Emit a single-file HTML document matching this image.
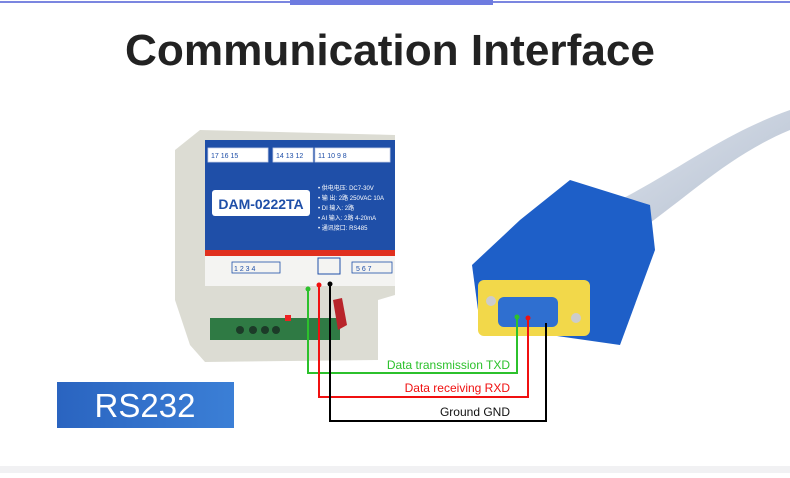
<!DOCTYPE html>
<html><head><style>
body{margin:0;width:790px;height:473px;background:#fff;overflow:hidden;font-family:"Liberation Sans",sans-serif;}
</style></head><body>
<svg width="790" height="473" viewBox="0 0 790 473" xmlns="http://www.w3.org/2000/svg">
<rect x="0" y="1" width="790" height="2" fill="#7b86e0"/>
<rect x="290" y="0" width="203" height="5" fill="#6e7be0"/>
<rect x="0" y="466" width="790" height="7" fill="#f1f1f3"/>
<text x="390" y="65" text-anchor="middle" font-size="44" font-weight="bold" fill="#222" textLength="530" lengthAdjust="spacingAndGlyphs">Communication Interface</text>
<defs><linearGradient id="bl" x1="0" y1="0" x2="1" y2="0"><stop offset="0" stop-color="#2a64c0"/><stop offset="1" stop-color="#3b7fd6"/></linearGradient>
<linearGradient id="cab" x1="0" y1="0" x2="1" y2="1"><stop offset="0" stop-color="#dde3ec"/><stop offset="1" stop-color="#b4bfd0"/></linearGradient></defs>
<rect x="57" y="382" width="177" height="46" fill="url(#bl)"/>
<text x="145" y="417" text-anchor="middle" font-size="33" fill="#fff">RS232</text>
<!-- device -->
<polygon points="175,150 200,130 395,135 395,295 378,300 378,360 205,362 190,345 175,300" fill="#dcdcd3"/>
<rect x="205" y="140" width="190" height="112" fill="#1f4fa8"/>
<rect x="205" y="250" width="190" height="6" fill="#e0301e"/>
<rect x="205" y="256" width="190" height="30" fill="#f4f4f2"/>
<rect x="212" y="190" width="98" height="26" rx="3" fill="#fff"/>
<text x="261" y="209" text-anchor="middle" font-size="14" font-weight="bold" fill="#1f4fa8">DAM-0222TA</text>
<g fill="#fff" stroke="#cbd3e8" stroke-width="0.8">
<rect x="208" y="148" width="60" height="14"/><rect x="273" y="148" width="40" height="14"/><rect x="315" y="148" width="75" height="14"/>
</g>
<g font-size="7" fill="#1f4fa8"><text x="211" y="158">17 16 15</text><text x="276" y="158">14 13 12</text><text x="318" y="158">11  10  9  8</text></g>
<g font-size="6" fill="#fff"><text x="318" y="190">• 供电电压: DC7-30V</text><text x="318" y="200">• 输 出: 2路 250VAC 10A</text><text x="318" y="210">• DI 输入: 2路</text><text x="318" y="220">• AI 输入: 2路 4-20mA</text><text x="318" y="230">• 通讯接口: RS485</text></g>
<g fill="none" stroke="#1f4fa8" stroke-width="0.8"><rect x="232" y="262" width="48" height="11"/><rect x="352" y="262" width="40" height="11"/></g>
<g font-size="7" fill="#1f4fa8"><text x="234" y="271">1  2  3  4</text><text x="356" y="271">5  6  7</text></g>
<rect x="318" y="258" width="22" height="16" fill="none" stroke="#1f4fa8"/>
<rect x="210" y="318" width="130" height="22" fill="#2f7a44"/>
<g fill="#1c3b28"><circle cx="240" cy="330" r="4"/><circle cx="253" cy="330" r="4"/><circle cx="265" cy="330" r="4"/><circle cx="276" cy="330" r="4"/></g>
<rect x="285" y="315" width="6" height="6" fill="#e22"/>
<path d="M333,300 L342,298 L347,325 L338,330 Z" fill="#b8242a"/>
<!-- connector -->
<path d="M610,205 C680,170 720,135 790,110 L790,130 C730,155 690,195 640,230 Z" fill="url(#cab)"/>
<path d="M570,180 L650,205 L655,250 L620,345 L480,325 L472,265 L520,220 Z" fill="#1e5fc8"/>
<rect x="478" y="280" width="112" height="56" rx="6" fill="#f2d84a"/>
<rect x="498" y="297" width="60" height="30" rx="6" fill="#2f6fd0"/>
<circle cx="491" cy="301" r="5" fill="#ccc"/><circle cx="576" cy="318" r="5" fill="#ccc"/>
<!-- wires -->
<g fill="none" stroke-width="2">
<polyline points="308,289 308,373 517,373 517,317" stroke="#2cc12c"/>
<polyline points="319,285 319,397 528,397 528,318" stroke="#f01010"/>
<polyline points="330,284 330,421 546,421 546,323" stroke="#000"/>
</g>
<circle cx="308" cy="289" r="2.5" fill="#2cc12c"/><circle cx="319" cy="285" r="2.5" fill="#f01010"/><circle cx="330" cy="284" r="2.5" fill="#000"/>
<circle cx="517" cy="317" r="2.5" fill="#2cc12c"/><circle cx="528" cy="318" r="2.5" fill="#f01010"/>
<g font-size="12" text-anchor="end">
<text x="510" y="369" fill="#2cc12c">Data transmission TXD</text>
<text x="510" y="392" fill="#f01010">Data receiving RXD</text>
<text x="510" y="416" fill="#111">Ground GND</text>
</g>
</svg>
</body></html>
